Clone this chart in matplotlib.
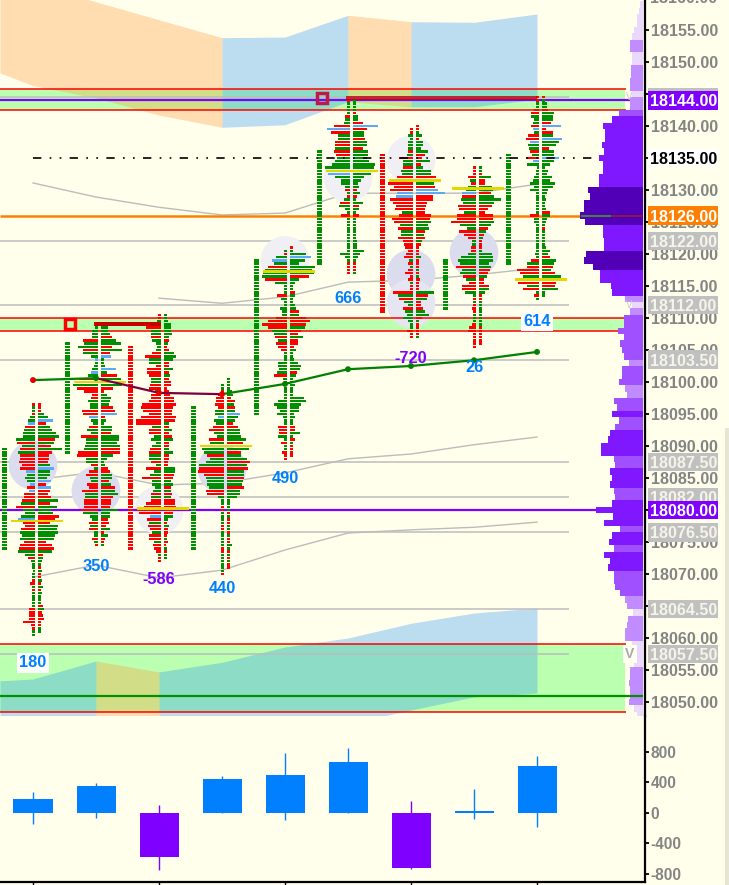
import matplotlib
matplotlib.use('Agg')
import matplotlib.pyplot as plt
from matplotlib.patches import Rectangle
import numpy as np

plt.rcParams['font.family'] = ['Liberation Sans', 'DejaVu Sans']

BG = '#ffffec'
GREEN, RED, SKY = '#008f00', '#ff0000', '#5aaaf5'
PX = 1 / 63  # one picture pixel in session units
PRICE_PX = 6.4

# footprint rows, top row first, one row per 0.5 points: colour + size, "-" for empty
s1_top = 18096.5
s1_bid = """r3 g3 g3 r3 g5 g7 s7 r10 g11 g12 g12 g19 r18 g13 r15 g17 r15 r15 r16 r13 r15 s9 g8 g10 g8 s5 r8 s6 r11 r11
r13 g14 r19 g12 g10 g14 s17 r12 r10 r14 g15 g13 g15 r11 r15 r16 g17 g10 r7 g4 g3 g3 g2 g3 g3 r3 r5 g3 r3 g3 g3 g3 g3 g3
r6 r6 r6 r6 r12 r4 r3 g3 g3""".split()
s1_ask = """r3 r3 r3 g6 g10 s15 r8 g12 g14 g18 g21 r17 g16 r13 g24 r14 r11 r11 r10 g12 s16 g12 g12 g9 s13 r8 s13 r12 r10 r13
g20 r12 g19 g13 g15 r21 r17 r12 g20 g19 g20 g17 g16 r8 r14 r16 g14 r5 g5 g4 g3 r3 g4 r3 r3 g4 r3 g5 r3 g4 g3 g3 g3 r5
g6 r4 r5 r6 r3 r3 g3 g3""".split()
s2_top = 18108.5
s2_bid = """g3 g6 g6 g6 r15 g14 g20 r15 g15 g7 s3 g3 g4 g6 s7 g10 r19 g22 g25 r21 r14 r6 r7 g10 g8 g8 r16 r15 s9 g7
g5 r9 g11 g7 r17 g12 g12 g13 g14 r20 r21 g12 g12 r7 g4 r9 r12 g8 g7 r11 r9 r16 g13 g13 r14 r14 r14 r17 g15 g8
g6 r9 g8 r9 g4 g4 r6 g4 r3""".split()
s2_ask = """g7 g7 g9 r11 g15 g20 r11 g21 r9 s10 g3 g3 g4 s15 g6 r16 g20 g15 g21 r12 r3 g6 g10 g9 g8 r12 r14 s16 r4 g5
g3 g11 g11 r10 g18 g18 g16 g19 r19 r19 g12 g6 g3 g4 r7 r9 g11 g11 r8 g10 r14 g14 g17 r12 r10 r10 r9 g17 g9 g9
r7 r8 r5 g9 r3 g7 r4 r3 g3""".split()
s3_top = 18110.5
s3_bid = """r3 r3 g4 g6 r15 g10 g10 r10 g9 g5 g4 g5 r9 r16 g12 g12 r5 r14 r14 r12 g10 g10 r11 r12 g6 r10 r10 r12 r19 r20
r18 r12 r20 r25 r25 g9 r12 r12 g7 g10 g5 g9 r11 r12 g12 g12 r10 g5 r15 g7 g11 r19 g9 g9 g6 g8 r10 g10 r10 r15
r17 r24 r22 s11 r14 g12 r13 r11 g9 r12 r12 g7 r8 r7 r5 g3 r3 r3""".split()
s3_ask = """g3 g3 g4 g7 g7 g7 g8 g5 r5 g4 r3 r5 g10 g12 g9 r5 r5 g9 r5 g6 r5 r7 r7 r3 r5 r6 r10 r10 r12 r9
r8 r8 r12 r11 g5 r5 g8 r5 r8 g9 r5 r5 g5 g9 r5 r5 r4 r4 g11 g11 r10 r9 g7 g9 r7 g7 r8 g7 r11 r11
r12 r10 r9 g9 g4 r3 g5 r4 r4 r3 g3 r4 r2 g3 r3 g3 g3""".split()
s4_top = 18100.5
s4_bid = """- - g3 g3 r3 r6 r8 r8 r9 r6 g9 g9 s6 g10 g8 r11 r15 g10 g7 r15 g14 r22 g22 g20 r17 g14 g18 g25 r25 r26
r20 g18 g17 g17 g15 r18 r17 g6 g3 g3 r3 r3 g3 g3 g3 g3 r3 r3 g3 g3 g3 g3 g3 r3 r3 g3 g3 g3 g3 g3
g3 r3""".split()
s4_ask = """g3 g3 g3 g3 g5 g6 r4 r8 g7 r8 g8 s13 g11 g8 r6 r11 g13 g13 g14 g19 r16 g23 g22 r14 g14 g20 r23 g20 r21 g17
g17 r17 g16 g15 r17 g13 g13 g10 g3 g3 g3 g3 r3 g3 r3 r3 g3 g3 r3 g3 r3 r3 g5 g3 r3 g3 r3 g3 r3 r3""".split()
s5_top = 18121
s5_bid = """- g3 r3 g11 s15 g13 r19 g22 g24 g25 r22 g12 g3 g3 g3 r10 g6 g3 g3 g7 g5 g5 r11 r19 r25 r19 g15 g13 r12 g9
r11 r9 r6 g3 g3 g3 g9 g9 g8 g10 r13 g4 g3 g4 g3 g3 g3 g3 g9 g13 g10 g7 g10 g4 g3 g3 r9 r8 r8 g9
g3 r6 g3 g3 r5 r3 r3""".split()
s5_ask = """r3 g3 g16 s21 g15 g9 g25 g22 g24 r19 g9 g5 g3 g3 r5 g5 g3 g3 g5 g6 r9 g9 r16 r20 r16 g15 r11 r8 g13 r8
r8 r4 g6 g3 g3 g4 g8 g11 g10 r7 g6 g3 g3 g5 g3 g3 g3 g14 g16 g11 g9 g9 g4 g5 g3 g3 r5 r5 g10 g3
r5 g3 r3 r3 r3 r3""".split()
s6_top = 18144
s6_bid = """r3 g3 g3 g3 g3 r5 g5 g6 r16 s23 r19 g12 g12 r15 r15 g15 r16 r14 g13 g15 g18 g25 g24 s22 g15 g9 g9 g5 r5 g3
r3 g6 r10 g11 g5 g3 r9 g3 g3 g3 g3 g3 g3 g3 g3 g3 g3 g3 g10 g5 g3 r3 r3 r3 r3""".split()
s6_ask = """g3 g3 g3 g3 r3 g5 g5 r10 s25 r14 g11 g11 r12 g14 g14 r10 g15 g15 g14 g16 g22 g21 g24 g18 g11 g8 g5 g6 r4 g7
r4 g3 g10 r6 g6 g3 r6 g3 g3 g3 g3 g3 g3 g3 g4 g4 g4 g11 g7 g5 g3 r3 r3 r3 g3""".split()
s7_top = 18140
s7_bid = """- r3 r3 g5 g3 g5 g5 g5 r5 g6 r14 g10 g10 r10 g12 g11 r16 g12 r25 r19 r23 s16 s17 r23 r20 r17 r18 g11 r14 r21
r19 g13 r15 g12 g12 r15 r10 r9 r8 r5 r7 r9 g4 r5 g3 r5 r8 r3 r5 g3 r3 r3 r20 g15 r14 g9 g5 r10 g8 g6
g10 g5 g3 g3 r6 r3 r3""".split()
s7_ask = """r3 r3 g3 g6 r3 g7 g7 g5 g12 r9 r6 g14 r5 g7 g15 g15 r20 g15 g18 r19 s22 s29 r17 r17 r11 r10 r9 r9 r15 r14
g15 g12 g13 r9 g8 r9 g6 r5 r3 r3 r3 g5 r3 r3 r3 g3 r3 g3 r4 r3 r3 r3 g18 r12 g11 r5 r5 r7 g9 g13
r6 g3 r3 r3 r3 r3 g3""".split()
s8_top = 18133.5
s8_bid = """r3 r3 r3 r8 g6 r5 g8 g10 s14 r14 g15 g13 r18 r17 g12 r19 r19 r25 g16 g9 r17 r12 r8 g4 g4 r5 r5 g8 g15 g18
g16 r20 g14 g16 r13 g10 r7 r14 r14 g11 g3 r3 g3 r3 r4 r3 g3 g3 g3 r4 r7 r8 r3 r3 r3 r3 r3""".split()
s8_ask = """g3 g3 r3 g12 r6 r6 g13 g14 r12 g15 g22 g15 r13 r9 r6 r14 r14 g15 g12 r9 g7 r5 g4 r3 r3 r3 g3 g13 g14 g14
g10 g12 r11 r9 g8 r5 r5 r10 g10 g6 r3 r3 g3 g3 g3 g3 g3 g3 g3 g3 r3 r3 r3 r3 r3 r3""".split()
s9_top = 18144.5
s9_bid = """r3 r3 g3 g3 r5 r8 g8 g5 g6 r8 s6 g5 r11 r13 s9 g11 g10 r9 g7 r13 s6 g12 g2 g3 g3 g5 g6 g9 g5 g9
g3 g3 g3 g3 g3 g3 g3 r9 g5 g5 g3 g3 g3 g3 g3 g3 g3 g3 g3 g4 g3 r8 g12 r12 r22 r19 g16 g14 r21 g12
r16 g3 r5 g3""".split()
s9_ask = """r3 g3 g5 g5 r6 g12 g11 g11 r9 s19 r4 r11 g11 s20 g17 g14 r7 g12 g12 s17 g12 g8 g3 g6 g5 g10 g8 g13 g11 g6
g5 g3 g4 g3 g3 g4 r8 g8 g5 g4 g3 r3 g3 g3 g3 g3 g3 g4 g8 g6 r8 g14 g12 r11 g9 r13 g19 r19 r14 r13
g16 g3 g3""".split()

session_rows = [(s1_top, s1_bid, s1_ask), (s2_top, s2_bid, s2_ask), (s3_top, s3_bid, s3_ask),
                (s4_top, s4_bid, s4_ask), (s5_top, s5_bid, s5_ask), (s6_top, s6_bid, s6_ask),
                (s7_top, s7_bid, s7_ask), (s8_top, s8_bid, s8_ask), (s9_top, s9_bid, s9_ask)]
poc_prices = [18078.25, 18100, 18080.25, 18090, 18117.25, 18133, 18131.5, 18130.25, 18116]

# time ladders left of every profile
ladder_high = [18089.5, 18106, 18105.5, 18096, 18119, 18136, 18135.5, 18119, 18135.5]
ladder_low = [18074, 18089, 18074, 18074, 18095, 18118.5, 18111, 18111.5, 18118.5]
ladder_color = [GREEN, GREEN, RED, GREEN, GREEN, GREEN, RED, GREEN, GREEN]

# shaded zones
cloud_x = [-0.524, 0, 1, 2, 3, 4, 5, 6, 7, 8]
upper_top = [18165.9, 18162.2, 18159.4, 18156.6, 18153.8, 18153.9, 18157.3, 18156.3, 18156.2, 18157.5]
upper_bot = [18148.3, 18146.3, 18144.4, 18141.7, 18139.8, 18140.2, 18143.8, 18143, 18143, 18144.2]
lower_top = [18053.3, 18053.6, 18056.4, 18054.7, 18056.2, 18058.6, 18060, 18062.3, 18063.9, 18064.7]
lower_bot = [18045, 18045, 18045, 18045, 18045, 18045, 18046.6, 18048.75, 18050.8, 18051.4]
upper_spans = [(-0.524, 3, 'o'), (3, 5, 'b'), (5, 6, 'o'), (6, 8, 'b')]
lower_spans = [(-0.524, 1, 'b'), (1, 2, 'o'), (2, 8, 'b')]

# session average line
avg_line = [18100.3, 18100.6, 18098.3, 18098.1, 18099.7, 18102, 18102.5, 18103.4, 18104.7]
avg_up = [False, True, False, False, True, True, True, True, True]

# thin grey curves
sess = np.arange(9)
curve_a = [18131.1, 18128.9, 18127.3, 18126.1, 18126.4, 18129.5, 18129.5, 18129.5, 18130.9]
curve_b = [18113.1, 18112.3, 18113.3, 18115.6, 18115.9, 18116.7, 18117.8]
curve_c = [18084.7, 18085.9, 18083.9, 18084.2, 18085.8, 18088, 18088.75, 18090.2, 18091.4]
curve_d = [18069.5, 18071.4, 18069.4, 18070.6, 18073.75, 18076.4, 18076.9, 18077.3, 18078.1]

circle_x = [0, 1, 2, 3, 4, 5, 6, 6, 6, 7]
circle_p = [18087, 18083, 18080, 18086.4, 18119, 18131.9, 18134.7, 18116.9, 18112.3, 18120.2]
circle_c = ['#dcdcef', '#dcdcef', '#f0f0f4', '#dcdcef', '#f0f0f4', '#f0f0f4', '#f0f0f4', '#dcdcef', '#e6e6f2', '#dcdcef']

grey_levels = [18144.5, 18122, 18112, 18103.5, 18087.5, 18082, 18076.5, 18064.5, 18057.5]

delta_labels = ['180', '350', '-586', '440', '490', '666', '-720', '26', '614']
delta_p = [18056.1, 18071.25, 18069.1, 18067.7, 18085, 18113.1, 18103.75, 18102.3, 18109.4]
delta_close = [180, 350, -586, 440, 490, 666, -720, 26, 614]
delta_high = [271, 385, 100, 481, 783, 848, 153, 310, 743]
delta_low = [-149, -66, -752, 0, -96, 0, -739, -83, -184]

# volume by price on the right
vp_prices = list(range(18159, 18047, -1))
vp_sizes = [3, 4, 6, 6, 9, 11, 13, 13, 11, 11, 12, 12, 13, 13, 11, 13, 13, 24, 31, 40,
            38, 38, 41, 39, 44, 40, 40, 44, 44, 55, 53, 59, 59, 63, 58, 40, 40, 39, 39, 57,
            59, 50, 43, 43, 32, 31, 18, 11, 13, 19, 19, 25, 19, 23, 21, 19, 14, 21, 21, 24,
            18, 16, 29, 26, 31, 24, 28, 33, 35, 42, 42, 29, 28, 33, 31, 33, 29, 28, 31, 47,
            30, 39, 23, 31, 34, 29, 39, 33, 35, 29, 29, 28, 23, 18, 16, 10, 15, 16, 18, 18,
            11, 9, 9, 9, 13, 13, 14, 13, 13, 14, 9, 6]

x_tick_sessions = [0, 2, 4, 6, 8]
price_ticks = list(range(18050, 18156, 5))
delta_ticks = [-800, -400, 0, 400, 800]


def band_x(px):
    return (px - 33) * PX


def row_color(code):
    return {'g': GREEN, 'r': RED, 's': SKY}[code]


def vp_color(size):
    if size >= 50:
        return '#5200b8'
    if size >= 30:
        return '#8018ff'
    if size >= 19:
        return '#a050ff'
    if size >= 12:
        return '#c08cff'
    return '#ead8ff'


fig = plt.figure(figsize=(7.29, 8.85), dpi=100, facecolor=BG)
right = 644.6 / 729
ax = fig.add_axes([0, 1 - 716 / 885, right, 716 / 885])
ax2 = fig.add_axes([0, 1 - 882.3 / 885, right, (882.3 - 716) / 885])
ax.set_facecolor(BG)
ax2.set_facecolor(BG)

# green zones with red borders
for lo, hi in [(18142.45, 18145.85), (18108, 18110), (18048.5, 18059)]:
    ax.fill_between([band_x(0), band_x(625)], lo, hi, color='#bbffb0', lw=0, zorder=0.5)
    ax.hlines([lo, hi], band_x(0), band_x(626), color=RED, lw=1.1, zorder=1.6)

zone_col = {'o': ('#ff9836', 0.33), 'b': ('#238df9', 0.3)}
for top, bot, spans in [(upper_top, upper_bot, upper_spans), (lower_top, lower_bot, lower_spans)]:
    for a, b, kind in spans:
        # cut the zone at the session borders only
        keep = [(x, t, m) for x, t, m in zip(cloud_x, top, bot) if a <= x <= b]
        xs, ts, ms = zip(*keep)
        ax.fill_between(xs, ms, ts, color=zone_col[kind][0], alpha=zone_col[kind][1], lw=0, zorder=1)

ax.hlines(grey_levels, band_x(0), band_x(569), color='#bcbcbc', lw=1.1, zorder=1.2)
for xs, curve in ((sess, curve_a), (sess[2:], curve_b), (sess, curve_c), (sess, curve_d)):
    ax.plot(xs, curve, color='#bcbcbc', lw=1, zorder=1.3)

ax.scatter(circle_x, circle_p, s=1230, c=circle_c, lw=0, zorder=1.4)

# level lines
ax.hlines(18144, band_x(0), band_x(630), color='#7f00ff', lw=1.6, zorder=1.7)
ax.hlines(18080, band_x(0), band_x(600), color='#7f00ff', lw=1.6, zorder=1.7)
ax.hlines(18126, band_x(0), band_x(581), color='#ff8000', lw=1.8, zorder=1.7)
ax.hlines(18051, band_x(0), band_x(643), color='#009000', lw=1.6, zorder=4)
ax.plot([0, band_x(598)], [18135, 18135], color='black', lw=1.2, ls=(0, (5, 5, 1, 5, 1, 5)), zorder=4)

# profile on the right
ax.barh(vp_prices, [-v * PX for v in vp_sizes], left=band_x(642.7), height=1,
        color=[vp_color(v) for v in vp_sizes], lw=0, zorder=2)
ax.hlines(18126, band_x(581), band_x(611), color='#3f7f3f', lw=1.5, zorder=3)
ax.hlines(18126, band_x(611), band_x(642), color='#8f2030', lw=1.2, zorder=3)

# footprints
for i, (top, bid, ask) in enumerate(session_rows):
    centre = i + 3.6 * PX
    for side, rows in ((-1, bid), (1, ask)):
        for k, tok in enumerate(rows):
            if tok == '-':
                continue
            ax.barh(top - k * 0.5, side * int(tok[1:]) * PX, left=centre + side * 1.4 * PX,
                    height=0.37, color=row_color(tok[0]), lw=0, zorder=3)
    ax.barh(poc_prices[i], 52 * PX, left=centre - 26 * PX, height=0.36, color='#e0d800', lw=0, zorder=3.2)
    rows_y = np.arange(ladder_low[i], ladder_high[i] + 0.25, 0.5)
    ax.barh(rows_y, 5 * PX, left=i - 31 * PX, height=0.37, color=ladder_color[i], lw=0, zorder=3)

# poor highs
ax.plot(band_x(70), 18109, 's', ms=6.9, mfc='none', mec=RED, mew=2.5, zorder=5)
ax.barh(18109, band_x(161) - band_x(94), left=band_x(94), height=0.6, color='#c80000', lw=0, zorder=3.5)
ax.plot(band_x(322), 18144.4, 's', ms=6.9, mfc='none', mec='#c01848', mew=2.5, zorder=5)
ax.barh(18144.4, band_x(537) - band_x(346), left=band_x(346), height=0.6, color='#c00010', alpha=0.8, lw=0, zorder=3.5)

# average line
for i in range(8):
    ax.plot(sess[i:i + 2], avg_line[i:i + 2], color='#008000' if avg_up[i + 1] or i == 0 else '#7a0040',
            lw=1.6, zorder=4)
ax.scatter(sess, avg_line, s=18, c=['#008000' if up else '#e00000' for up in avg_up], lw=0, zorder=4.2)

# delta numbers
for i, (lab, p) in enumerate(zip(delta_labels, delta_p)):
    box = dict(fc='white', ec='none', pad=1.5) if lab in ('180', '614') else None
    ax.text(i, p, lab, color='#7f00ff' if lab.startswith('-') else '#0080ff', fontsize=11.8, fontweight='bold',
            ha='center', va='center', bbox=box, zorder=5)

for lab_p in (18057.5,):
    ax.text(band_x(630), lab_p, 'V', color='#a8a8a8', fontsize=10, fontweight='bold', ha='center', va='center',
            bbox=dict(fc='#fffff4', ec='none', pad=1.5), zorder=5)
for lab_p in (18144.5, 18112):
    ax.text(band_x(629), lab_p, 'V', color='#c8c8c8', fontsize=7, ha='center', va='center', zorder=5)

# price axis
ax.set_xlim(band_x(0), band_x(644.6))
ax.set_ylim(18140 + (126 - 716) / PRICE_PX, 18140 + 126 / PRICE_PX)
ax.set_xticks([])
for name in ('top', 'left', 'bottom'):
    ax.spines[name].set_visible(False)
ax.spines['right'].set_linewidth(1.6)
ax.yaxis.tick_right()
ax.set_yticks(price_ticks, [f'{p}.00' for p in price_ticks])
ax.tick_params(axis='y', length=3, width=1.3, pad=1.5, labelsize=11.6, labelcolor='#848484')
for t in ax.get_yticklabels():
    t.set_fontweight('bold')
ax.text(band_x(650), 18160, '18160.00', color='#848484', fontsize=11.6, fontweight='bold', va='center', ha='left',
        clip_on=False, zorder=2)

# price badges, later ones on top
GREY_BOX, GREY_TXT = '#c0c0c0', '#f4f4e8'
badges = [(18122, GREY_BOX, GREY_TXT), (18112, GREY_BOX, GREY_TXT), (18103.5, GREY_BOX, GREY_TXT),
          (18087.5, GREY_BOX, GREY_TXT), (18082, GREY_BOX, GREY_TXT), (18076.5, GREY_BOX, GREY_TXT),
          (18064.5, GREY_BOX, GREY_TXT), (18057.5, GREY_BOX, GREY_TXT),
          (18144, '#7f00ff', 'white'), (18135, '#ffffff', 'black'), (18126, '#ff8000', 'white'), (18080, '#7f00ff', 'white')]
ax.barh(18144.5, 70 * PX, left=band_x(648), height=18.5 / PRICE_PX, color=GREY_BOX, lw=0, clip_on=False, zorder=5.9)
for n, (p, bg, fg) in enumerate(badges):
    ax.barh(p, 70 * PX, left=band_x(648), height=18.5 / PRICE_PX, color=bg, lw=0, clip_on=False, zorder=6 + n * 0.01)
    ax.text(band_x(650), p, f'{p:.2f}', color=fg, fontsize=11.6, fontweight='bold', va='center_baseline', ha='left',
            clip_on=False, zorder=6 + n * 0.01 + 0.005)

# delta panel
for i in range(9):
    col = '#0080ff' if delta_close[i] >= 0 else '#7f00ff'
    ax2.vlines(i, delta_low[i], delta_high[i], color=col, lw=1)
    ax2.bar(i, delta_close[i], width=39 * PX, color=col, lw=0, zorder=3)
ax2.set_xlim(ax.get_xlim())
ax2.set_ylim(-(882.3 - 812.7) / 0.07625, (812.7 - 716) / 0.07625)
for name in ('top', 'left'):
    ax2.spines[name].set_visible(False)
ax2.spines['right'].set_linewidth(1.6)
ax2.spines['bottom'].set_linewidth(1.6)
ax2.yaxis.tick_right()
ax2.set_yticks(delta_ticks, [str(v) for v in delta_ticks])
ax2.set_xticks(x_tick_sessions, [''] * len(x_tick_sessions))
ax2.tick_params(axis='y', length=3, width=1.3, pad=1.5, labelsize=11.2, labelcolor='#848484')
ax2.tick_params(axis='x', length=2, width=1)
for t in ax2.get_yticklabels():
    t.set_fontweight('bold')

# window edge at the far right
fig.add_artist(Rectangle((725 / 729, 0), 4 / 729, 1 - 428 / 885, transform=fig.transFigure, fc='#e6e6d6', ec='none'))

fig.savefig('out.png', dpi=100)
